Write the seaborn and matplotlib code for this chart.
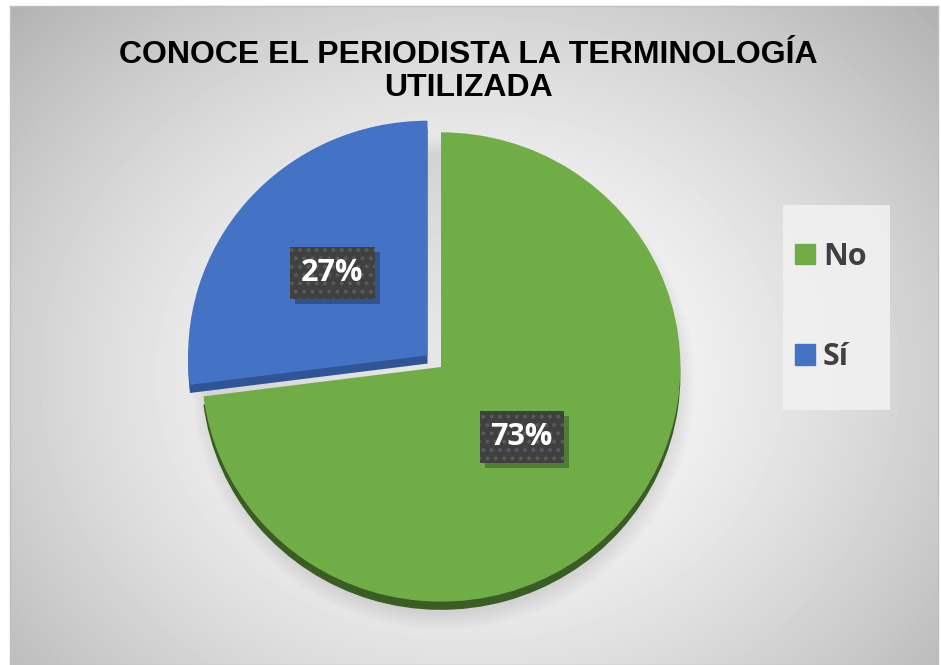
import numpy as np
import matplotlib
matplotlib.use("Agg")
import matplotlib.pyplot as plt
import matplotlib.patches as mpatches
import seaborn as sns

# data
labels = ["No", "Sí"]
values = [73, 27]
pct_labels = ["73%", "27%"]
colors = ["#70ad47", "#4472c4"]
side_colors = ["#3a5d24", "#2f5597"]
title = "CONOCE EL PERIODISTA LA TERMINOLOGÍA\nUTILIZADA"

sns.set_theme(style="white")
plt.rcParams["font.family"] = ["Liberation Sans", "DejaVu Sans"]
lbl_font = ["Open Sans", "DejaVu Sans"]

W, H = 941, 665
fig = plt.figure(figsize=(W / 100, H / 100), dpi=100)
fig.patch.set_facecolor("white")

# radial gradient background of the chart area
bg = fig.add_axes([10 / W, 0, 928 / W, 659 / H])
yy, xx = np.mgrid[0:659, 0:928]
d = np.hypot((xx - 460) / 560.0, (yy - 370) / 470.0)
grad = np.clip(1.0 - 0.25 * d ** 1.5, 0, 1)
bg.imshow(grad, cmap="gray", vmin=0, vmax=1, aspect="auto", interpolation="bilinear")
bg.set_xticks([])
bg.set_yticks([])
for s in bg.spines.values():
    s.set_color("#bfbfbf")
    s.set_linewidth(1.0)

# pie axes, 600x600 px centred at (441, 367)
cx, cy, half = 441, 367, 300
ax = fig.add_axes([(cx - half) / W, (H - cy - half) / H, 2 * half / W, 2 * half / H])
ax.set_facecolor("none")
lim = half / 237.0
explode = [0, 0.075]

# soft shadow
for i in range(8):
    ax.add_patch(mpatches.Ellipse((0.01, -0.07), 1.96 + 0.02 * i, 1.96 + 0.02 * i,
                                  color="black", alpha=0.012, lw=0))

# side (depth) of the pie
ax.pie(values, colors=side_colors, startangle=90, counterclock=False,
       explode=explode, center=(0, -0.035), wedgeprops=dict(lw=0))
wedges, _ = ax.pie(values, colors=colors, startangle=90, counterclock=False,
                   explode=explode, wedgeprops=dict(lw=0))
ax.set_aspect("auto")
ax.set_xlim(-lim * 0.99, lim * 0.99)
ax.set_ylim(-lim * 1.01, lim * 1.01)
ax.axis("off")

plt.rcParams["hatch.linewidth"] = 1.6
dist = [0.45, 0.53]
pct_texts = []
for w, txt, r in zip(wedges, pct_labels, dist):
    th = np.deg2rad((w.theta1 + w.theta2) / 2)
    x0, y0 = w.center
    x, y = x0 + r * np.cos(th), y0 + r * np.sin(th)
    t = ax.text(x, y, txt, ha="center", va="center", fontsize=22, fontweight="bold",
                color="white", family=lbl_font, zorder=5,
                bbox=dict(boxstyle="square,pad=0.36", fc="#404040", ec="#5a5a5a",
                          lw=0, hatch=".."))
    pct_texts.append(t)

# title
fig.text(468 / W, 1 - 40 / H, title, ha="center", va="top", fontsize=23,
         fontweight="bold", color="black", linespacing=1.15,
         multialignment="center")

# legend background box
fig.patches.append(mpatches.Rectangle((783 / W, 1 - 410 / H), 107 / W, 205 / H,
                                      transform=fig.transFigure, fc="#f2f2f2",
                                      ec="none", alpha=0.85, zorder=0.5))
handles = [mpatches.Patch(color=c, label=l) for c, l in zip(colors, labels)]
leg = fig.legend(handles=handles, loc="center left", bbox_to_anchor=(774 / W, 1 - 307 / H),
                 frameon=False, handlelength=0.65, handleheight=0.65,
                 handletextpad=0.25, labelspacing=2.3, borderpad=0.2,
                 prop=dict(family=lbl_font, weight="bold", size=22))
for t in leg.get_texts():
    t.set_color("#404040")

# drop shadows of the percentage boxes
fig.canvas.draw()
for t in pct_texts:
    bb = t.get_bbox_patch().get_window_extent()
    ax.add_patch(mpatches.Rectangle((bb.x0 + 5, bb.y0 - 5), bb.width, bb.height,
                                    transform=None, fc="black", alpha=0.28, lw=0,
                                    zorder=4))

fig.savefig("out.png", dpi=100)
